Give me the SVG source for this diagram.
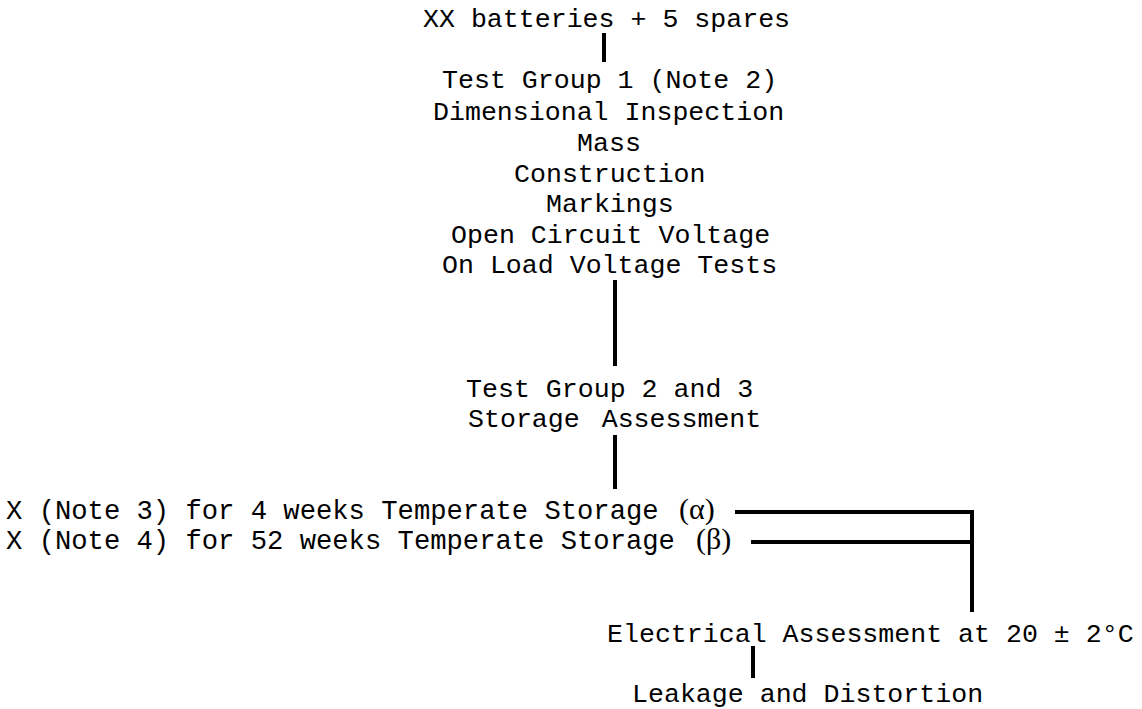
<svg xmlns="http://www.w3.org/2000/svg" width="1142" height="709" viewBox="0 0 1142 709">
<style>
text{font-family:"Liberation Mono","Courier New",monospace;fill:#000;font-size:26.6px}
.l{font-size:27.2px}
.g{font-family:"Liberation Serif","Times New Roman",serif;font-size:30px}
.c{stroke:#000;stroke-width:4;fill:none;stroke-linejoin:miter}
</style>
<rect width="1142" height="709" fill="#fff"/>
<g id="connectors">
<line class="c" x1="604" y1="33" x2="604" y2="62"/>
<line class="c" x1="615" y1="280" x2="615" y2="366"/>
<line class="c" x1="615" y1="435" x2="615" y2="489"/>
<path class="c" d="M735 512 H972 V612"/>
<line class="c" x1="751" y1="542" x2="972" y2="542"/>
<line class="c" x1="753" y1="646" x2="753" y2="678"/>
</g>
<g id="batteries"><text x="423" y="27">XX batteries + 5 spares</text></g>
<g id="group1">
<text x="442" y="88">Test Group 1 (Note 2)</text>
<text x="433" y="120">Dimensional Inspection</text>
<text x="577" y="151">Mass</text>
<text x="514" y="182">Construction</text>
<text x="546" y="212">Markings</text>
<text x="451" y="243">Open Circuit Voltage</text>
<text x="442" y="273">On Load Voltage Tests</text>
</g>
<g id="group23">
<text x="466" y="397">Test Group 2 and 3</text>
<text x="468" y="427" word-spacing="6">Storage Assessment</text>
</g>
<g id="storage-alpha"><text class="l" x="6" y="519">X (Note 3) for 4 weeks Temperate Storage <tspan class="g" x="679">(α)</tspan></text></g>
<g id="storage-beta"><text class="l" x="6" y="549">X (Note 4) for 52 weeks Temperate Storage <tspan class="g" x="696">(β)</tspan></text></g>
<g id="electrical"><text x="607" y="642">Electrical Assessment at 20 ± 2°C</text></g>
<g id="leakage"><text x="632" y="702">Leakage and Distortion</text></g>
</svg>
